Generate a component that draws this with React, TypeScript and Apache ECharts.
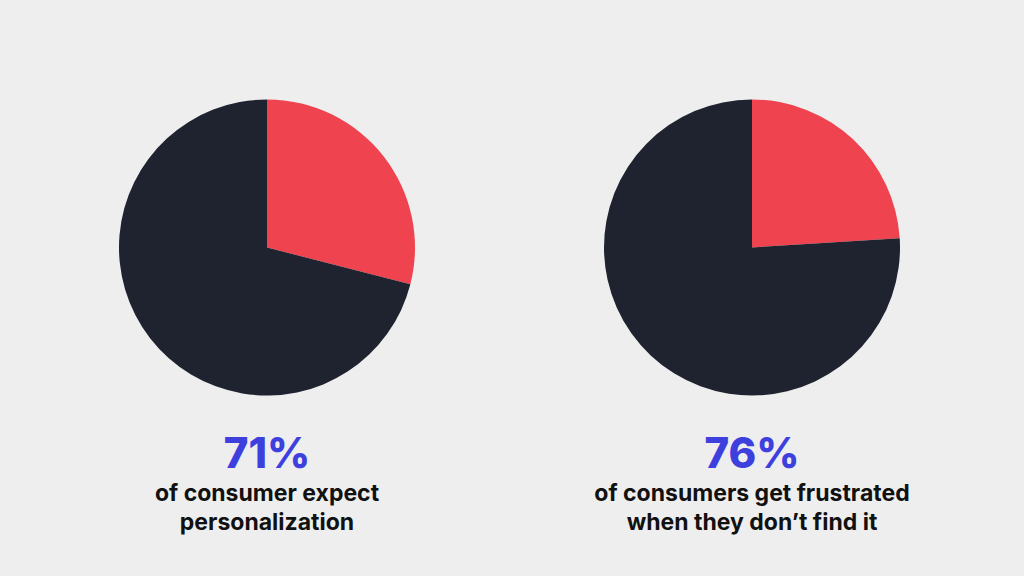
import React, { useEffect, useRef } from "react";
import * as echarts from "echarts";

const categories = ["Yes", "No"];
const leftValues = [29, 71];
const rightValues = [24, 76];
const headlines = ["71%", "76%"];
const captionsLeft = ["of consumer expect", "personalization"];
const captionsRight = ["of consumers get frustrated", "when they don\u2019t find it"];

const RED = "#ef4350";
const DARK = "#1f222f";
const BLUE = "#3e40de";

export default function App() {
  const ref = useRef<HTMLDivElement>(null);
  useEffect(() => {
    document.body.style.margin = "0";
    const chart = echarts.init(ref.current!, null, { renderer: "svg" });
    const mk = (vals: number[], cx: number) => ({
      type: "pie",
      center: [cx, 247.5],
      radius: [0, 148],
      startAngle: 90,
      clockwise: true,
      label: { show: false },
      labelLine: { show: false },
      silent: true,
      itemStyle: { borderWidth: 0 },
      data: categories.map((c, i) => ({
        name: c,
        value: vals[i],
        itemStyle: { color: i === 0 ? RED : DARK },
      })),
    });
    const font = "Inter, 'Noto Sans', sans-serif";
    const txt = (x: number, y: number, text: string, size: number, color: string, weight: number) => ({
      type: "text",
      x,
      y,
      style: {
        text,
        fill: color,
        fontSize: size,
        fontWeight: weight,
        fontFamily: font,
        align: "center",
        verticalAlign: "middle",
      },
    });
    chart.setOption({
      animation: false,
      backgroundColor: "#eeeeee",
      series: [mk(leftValues, 267), mk(rightValues, 752)],
      graphic: [
        txt(267, 452, headlines[0], 42, BLUE, 800),
        txt(267, 493, captionsLeft[0], 23, "#111111", 700),
        txt(267, 522, captionsLeft[1], 23, "#111111", 700),
        txt(752, 452, headlines[1], 42, BLUE, 800),
        txt(752, 493, captionsRight[0], 23, "#111111", 700),
        txt(752, 522, captionsRight[1], 23, "#111111", 700),
      ],
    });
    return () => chart.dispose();
  }, []);
  return <div ref={ref} style={{ width: 1024, height: 576 }} />;
}
